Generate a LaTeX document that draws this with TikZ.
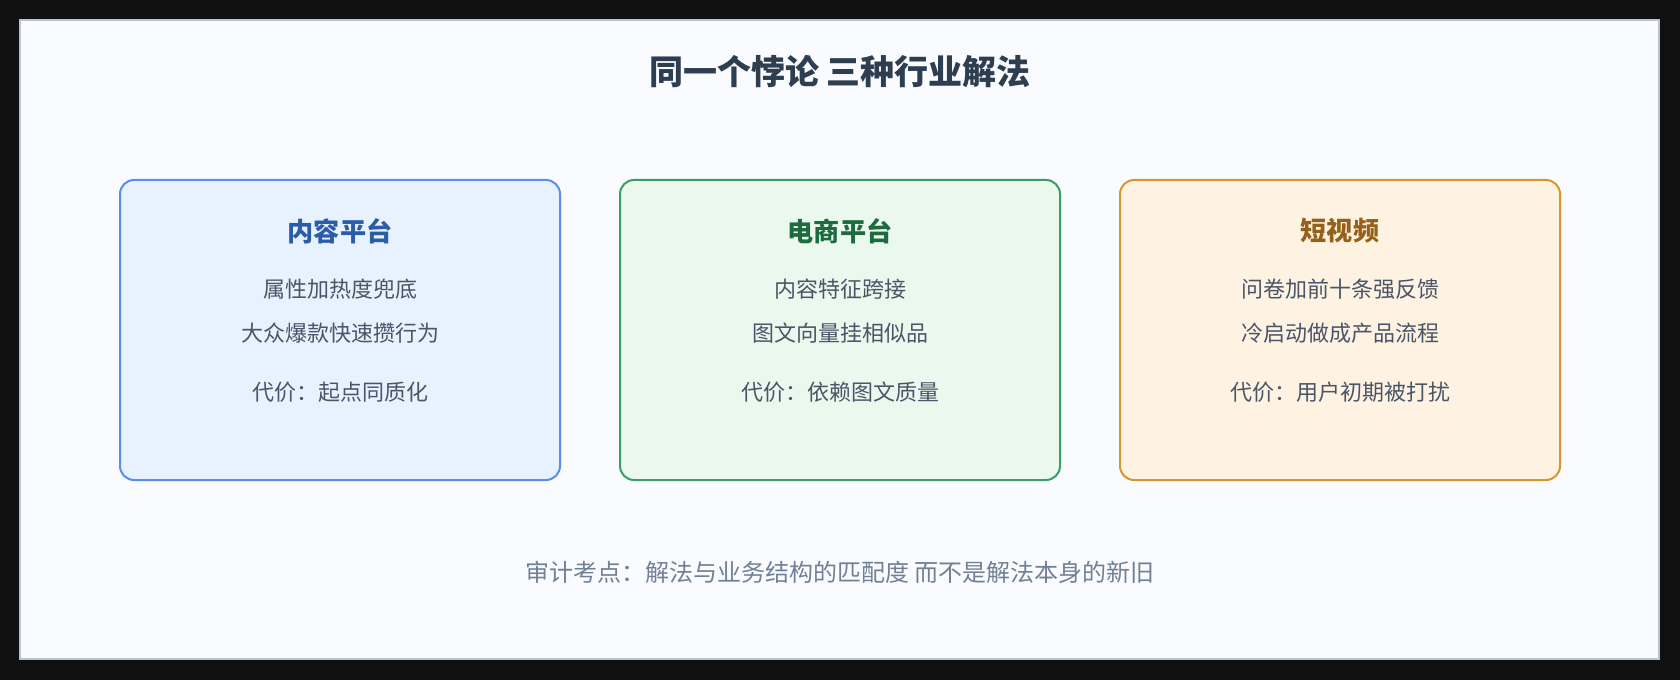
\documentclass[tikz,border=0pt]{standalone}
\usepackage{fontspec}
\setmainfont{Noto Sans CJK SC}
\definecolor{outerbg}{HTML}{111111}
\definecolor{panelbg}{HTML}{F9FBFE}
\definecolor{panelline}{HTML}{B8C4D6}
\definecolor{titlec}{HTML}{2C3E50}
\definecolor{bodyc}{HTML}{4A5568}
\definecolor{footc}{HTML}{718096}
\definecolor{fillA}{HTML}{E8F1FE}
\definecolor{lineA}{HTML}{5B8DEF}
\definecolor{headA}{HTML}{2B5CAA}
\definecolor{fillB}{HTML}{EAF8EE}
\definecolor{lineB}{HTML}{3A9E66}
\definecolor{headB}{HTML}{1E6B3F}
\definecolor{fillC}{HTML}{FEF3E2}
\definecolor{lineC}{HTML}{D8962E}
\definecolor{headC}{HTML}{94601A}
\tikzset{
	card/.style={rounded corners=10.5pt, line width=1.5pt, minimum width=330pt, minimum height=225pt, inner sep=0pt},
	cardhead/.style={font=\bfseries\fontsize{19.6}{23}\selectfont},
	cardtext/.style={font=\fontsize{16.5}{20}\selectfont, text=bodyc}
}
\begin{document}
\begin{tikzpicture}[x=0.75pt,y=-0.75pt]
		%background
		\fill[outerbg] (0,0) rectangle (1680,680);
		\useasboundingbox (0,0) rectangle (1680,680);
		\draw[panelline, line width=1.5pt, fill=panelbg] (20,20) rectangle (1659,659);
		
		%title
		\node[font=\bfseries\fontsize{25.5}{30}\selectfont, text=titlec] (title) at (840,72){同一个悖论 三种行业解法};
		
		%three cards
		\foreach \cx/\nm/\fc/\lc/\hc/\head/\la/\lb/\cost in {
			340/content/fillA/lineA/headA/内容平台/属性加热度兜底/大众爆款快速攒行为/起点同质化,
			840/shop/fillB/lineB/headB/电商平台/内容特征跨接/图文向量挂相似品/依赖图文质量,
			1340/video/fillC/lineC/headC/短视频/问卷加前十条强反馈/冷启动做成产品流程/用户初期被打扰}{
			\node[card, fill=\fc, draw=\lc] (\nm) at (\cx,330){};
			\node[cardhead, text=\hc] (\nm-head) at (\cx,231){\head};
			\node[cardtext] (\nm-a) at (\cx,289){\la};
			\node[cardtext] (\nm-b) at (\cx,333){\lb};
			\node[cardtext] (\nm-cost) at (\cx,392){代价：\cost};
		}
		
		%footer
		\node[font=\fontsize{18}{22}\selectfont, text=footc] (foot) at (840,572){审计考点：解法与业务结构的匹配度 而不是解法本身的新旧};
	\end{tikzpicture}
\end{document}
